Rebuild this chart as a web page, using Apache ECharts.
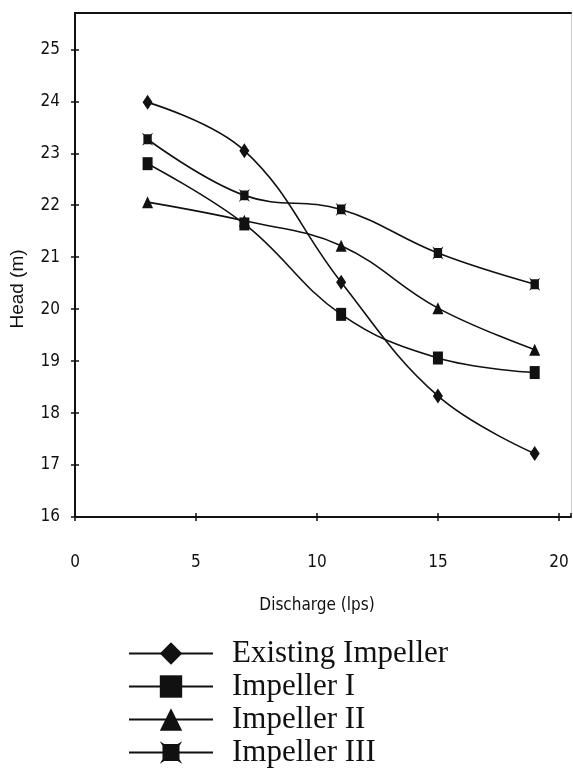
<!DOCTYPE html>
<html>
<head>
<meta charset="utf-8">
<script src="https://cdn.jsdelivr.net/npm/echarts@6/dist/echarts.min.js"></script>
<style>
  html, body { margin: 0; padding: 0; background: #fff; }
  #main { width: 573px; height: 771px; }
</style>
</head>
<body>
<div id="main"></div>
<script>
// discharge (lps) for every curve
var discharge = [3, 7, 11, 15, 19]
// head (m)
var existingImpeller = [23.98, 23.05, 20.52, 18.33, 17.22]
var impeller1 = [22.8, 21.64, 19.9, 19.06, 18.78]
var impeller2 = [22.06, 21.7, 21.22, 20.02, 19.22]
var impeller3 = [23.27, 22.19, 21.92, 21.08, 20.48]
var names = ['Existing Impeller', 'Impeller I', 'Impeller II', 'Impeller III']

var narrow = "'Liberation Sans Narrow', 'DejaVu Sans Condensed', 'Roboto Condensed', 'Liberation Sans', Arial, sans-serif"
var ink = '#111'

// square with flared corners (the Impeller III marker)
var flaredSquare = 'path://M0,0 L2,1.2 L8,1.2 L10,0 L8.8,2 L8.8,8 L10,10 L8,8.8 L2,8.8 L0,10 L1.2,8 L1.2,2 Z'

function pairs(ys) {
    return discharge.map(function (x, i) { return [x, ys[i]] })
}

function makeSeries(name, ys, symbol, size) {
    return {
        name: name,
        type: 'line',
        smooth: 0.4,
        data: pairs(ys),
        symbol: symbol,
        symbolSize: size,
        showAllSymbol: true,
        lineStyle: { color: ink, width: 1.6 },
        itemStyle: { color: ink, borderColor: ink, borderWidth: 0 },
        z: 3
    }
}

var chart = echarts.init(document.getElementById('main'))
var option = {
    backgroundColor: '#fff',
    animation: false,
    grid: {
        left: 72,
        right: 2,
        top: 13,
        bottom: 254
    },
    legend: {
        orient: 'vertical',
        left: 123,
        top: 633,
        height: 200,
        itemWidth: 84,
        itemHeight: 28,
        itemGap: 2,
        data: names,
        textStyle: {
            fontFamily: "'Liberation Serif', 'Times New Roman', serif",
            fontSize: 31,
            color: ink,
            padding: [0, 0, 0, 14]
        }
    },
    xAxis: [{
        type: 'value',
        min: 0,
        max: 20.5,
        interval: 5,
        name: 'Discharge (lps)',
        nameLocation: 'middle',
        nameGap: 80,
        nameTextStyle: { fontFamily: narrow, fontSize: 17, color: ink, padding: [0, 12, 0, 0] },
        axisLine: { show: true, onZero: false, lineStyle: { color: ink, width: 2 } },
        axisTick: { show: true, inside: false, length: 4, lineStyle: { color: ink, width: 1.5 } },
        axisLabel: { showMaxLabel: false, margin: 37, fontFamily: narrow, fontSize: 17, color: ink },
        splitLine: { show: false }
    }, {
        type: 'value',
        position: 'bottom',
        min: 0,
        max: 20.5,
        interval: 5,
        axisLine: { show: false },
        axisTick: { show: true, inside: true, length: 4, lineStyle: { color: ink, width: 1.5 } },
        axisLabel: { show: false },
        splitLine: { show: false }
    }, {
        type: 'value',
        position: 'top',
        min: 0,
        max: 20.5,
        axisLine: { show: true, onZero: false, lineStyle: { color: ink, width: 2 } },
        axisTick: { show: false },
        axisLabel: { show: false },
        splitLine: { show: false }
    }],
    yAxis: [{
        type: 'value',
        min: 16,
        max: 25.7,
        interval: 1,
        name: 'Head (m)',
        nameLocation: 'middle',
        nameGap: 48,
        nameTextStyle: { fontFamily: "'Liberation Sans', Arial, sans-serif", fontSize: 19, color: ink, padding: [0, 48, 0, 0] },
        axisLine: { show: true, onZero: false, lineStyle: { color: ink, width: 2 } },
        axisTick: { show: true, inside: false, length: 4, lineStyle: { color: ink, width: 1.5 } },
        axisLabel: { showMaxLabel: false, margin: 15, fontFamily: narrow, fontSize: 17, color: ink },
        splitLine: { show: false }
    }, {
        type: 'value',
        position: 'left',
        min: 16,
        max: 25.7,
        interval: 1,
        axisLine: { show: false },
        axisTick: { show: true, inside: true, length: 4, lineStyle: { color: ink, width: 1.5 } },
        axisLabel: { show: false },
        splitLine: { show: false }
    }, {
        type: 'value',
        position: 'right',
        min: 16,
        max: 25.7,
        axisLine: { show: true, onZero: false, lineStyle: { color: '#ccc', width: 1 } },
        axisTick: { show: false },
        axisLabel: { show: false },
        splitLine: { show: false }
    }],
    series: [
        makeSeries(names[0], existingImpeller, 'diamond', [10, 15]),
        makeSeries(names[1], impeller1, 'rect', [10, 13]),
        makeSeries(names[2], impeller2, 'triangle', [11, 12]),
        makeSeries(names[3], impeller3, flaredSquare, [11, 13])
    ]
}
chart.setOption(option)
</script>
</body>
</html>
